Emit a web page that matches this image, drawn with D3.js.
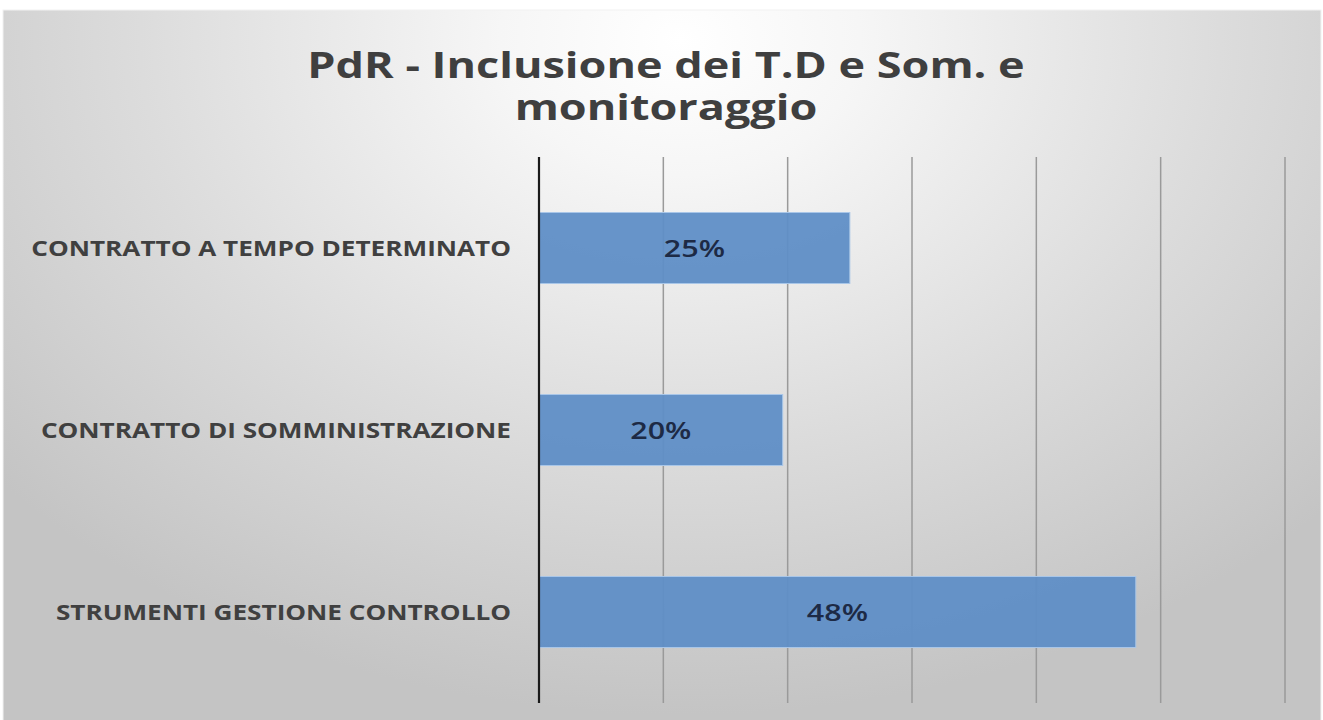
<!DOCTYPE html>
<meta charset="utf-8">
<style>
  body { margin: 0; background: #fff; }
  svg { display: block; }
  .title { font-family: "Open Sans", sans-serif; font-weight: 700; fill: #3f3f3f; text-anchor: middle; }
  .cat-label { font-family: "Open Sans", sans-serif; font-weight: 700; fill: #404040; text-anchor: end; }
  .val-label { font-family: "Open Sans", sans-serif; font-weight: 600; fill: #1d2a45; text-anchor: middle; }
  .grid line { stroke: #9a9a9a; stroke-width: 1.5px; }
  .bar { fill: #5f8ec6; stroke: #a9c6e8; stroke-width: 1px; fill-opacity: 0.95; }
</style>
<body>
<div id="vis"></div>
<script src="https://cdn.jsdelivr.net/npm/d3@7"></script>
<script>

const categories = ['CONTRATTO A TEMPO DETERMINATO', 'CONTRATTO DI SOMMINISTRAZIONE', 'STRUMENTI GESTIONE CONTROLLO'];
const values = [0.25, 0.196, 0.48];
const ticks = [0, 0.1, 0.2, 0.3, 0.4, 0.5, 0.6];
const titleLines = ['PdR - Inclusione dei T.D e Som. e', 'monitoraggio'];

const width = 1323,
    height = 720;
// the source picture is stretched wide, so texts get a horizontal scale
const sxTitle = 1.25, sxCat = 1.245, sxVal = 1.27;
const pct = d3.format('.0%');

let frame = {x: 3, y: 10, w: 1318, h: 712};
let plot = {l: 539, r: 1285, t: 157, b: 703};

let x = d3.scaleLinear().domain([0, 0.6]).range([plot.l, plot.r]);
let y = d3.scaleBand().domain(categories).range([plot.t, plot.b]).paddingInner(0.61).paddingOuter(0.305);

let svg = d3.select('#vis').append('svg')
    .attr('width', width)
    .attr('height', height);

let defs = svg.append('defs');
let grad = defs.append('radialGradient')
    .attr('id', 'bg')
    .attr('gradientUnits', 'userSpaceOnUse')
    .attr('cx', 680).attr('cy', 40).attr('r', 900)
    .attr('gradientTransform', 'translate(680,40) scale(1,0.75) translate(-680,-40)');
grad.append('stop').attr('offset', 0).attr('stop-color', '#ffffff');
grad.append('stop').attr('offset', 0.2).attr('stop-color', '#f6f6f6');
grad.append('stop').attr('offset', 0.6).attr('stop-color', '#dcdcdc');
grad.append('stop').attr('offset', 1).attr('stop-color', '#c4c4c4');

svg.append('rect')
    .attr('x', frame.x).attr('y', frame.y)
    .attr('width', frame.w).attr('height', frame.h)
    .attr('fill', 'url(#bg)')
    .attr('stroke', '#f2f2f2')
    .attr('stroke-width', 1);

// title
let title = svg.append('g').attr('transform', 'translate(666,0) scale(' + sxTitle + ',1)');
title.selectAll('text')
    .data(titleLines)
    .enter().append('text')
    .attr('class', 'title')
    .attr('y', (d, i) => 78 + i * 42)
    .style('font-size', '36px')
    .text(d => d);

// gridlines
svg.append('g')
    .attr('class', 'grid')
    .selectAll('line')
    .data(ticks.slice(1))
    .enter().append('line')
    .attr('x1', d => x(d)).attr('x2', d => x(d))
    .attr('y1', plot.t).attr('y2', plot.b);

// bars
svg.append('g')
    .selectAll('rect')
    .data(values)
    .enter().append('rect')
    .attr('class', 'bar')
    .attr('x', x(0))
    .attr('y', (d, i) => y(categories[i]))
    .attr('width', d => x(d) - x(0))
    .attr('height', y.bandwidth());

// axis line
svg.append('line')
    .attr('x1', x(0)).attr('x2', x(0))
    .attr('y1', plot.t).attr('y2', plot.b)
    .attr('stroke', '#1a1a1a')
    .attr('stroke-width', 2.2);

// value labels
svg.append('g')
    .selectAll('text')
    .data(values)
    .enter().append('text')
    .attr('class', 'val-label')
    .attr('transform', (d, i) => 'translate(' + [(x(0) + x(d)) / 2, y(categories[i]) + y.bandwidth() / 2] + ') scale(' + sxVal + ',1)')
    .attr('dy', '0.36em')
    .style('font-size', '24px')
    .text(d => pct(d));

// category labels
svg.append('g')
    .selectAll('text')
    .data(categories)
    .enter().append('text')
    .attr('class', 'cat-label')
    .attr('transform', d => 'translate(' + [511, y(d) + y.bandwidth() / 2] + ') scale(' + sxCat + ',1)')
    .attr('dy', '0.36em')
    .style('font-size', '21px')
    .text(d => d);

</script>
</body>
